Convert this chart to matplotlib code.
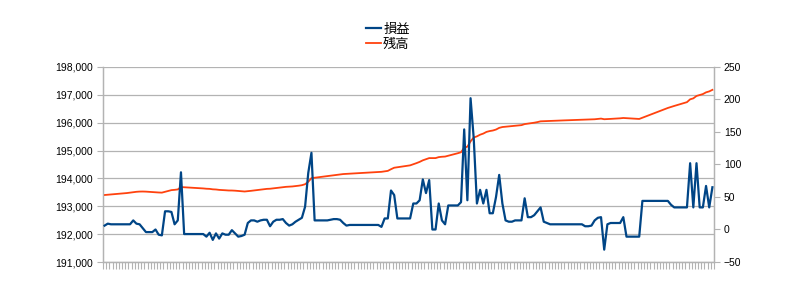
import numpy as np
import matplotlib
matplotlib.use("Agg")
import matplotlib.pyplot as plt
from matplotlib.ticker import FuncFormatter

plt.rcParams['font.family'] = ['Liberation Sans', 'DejaVu Sans']

series_names = ["損益", "残高"]

# 損益 (right axis)
profit = [
    6, 9, 8, 8, 8, 8, 8, 8, 8, 14,
    9, 8, 2, -4, -4, -4, 0, -8, -9, 28,
    28, 27, 8, 14, 88, -7, -7, -7, -7, -7,
    -7, -7, -11, -5, -16, -6, -14, -6, -8, -8,
    -1, -6, -11, -10, -8, 10, 14, 14, 12, 14,
    15, 15, 5, 12, 15, 15, 16, 10, 6, 8,
    12, 15, 18, 35, 87, 118, 14, 14, 14, 14,
    14, 15, 16, 16, 15, 10, 6, 7, 7, 7,
    7, 7, 7, 7, 7, 7, 7, 4, 17, 17,
    60, 53, 17, 17, 17, 17, 17, 40, 40, 45,
    77, 56, 76, 0, 0, 40, 14, 8, 37, 37,
    37, 37, 42, 154, 45, 202, 140, 40, 61, 40,
    61, 25, 25, 50, 84, 40, 14, 12, 12, 14,
    14, 14, 48, 19, 19, 22, 28, 34, 12, 10,
    8, 8, 8, 8, 8, 8, 8, 8, 8, 8,
    8, 5, 5, 6, 14, 18, 19, -31, 8, 10,
    10, 10, 10, 19, -11, -11, -11, -11, -11, 44,
    44, 44, 44, 44, 44, 44, 44, 44, 38, 34,
    34, 34, 34, 34, 102, 34, 102, 34, 34, 67,
    34, 65,
]

# 残高 (left axis)
balance = [
    193405, 193415, 193425, 193435, 193445, 193455, 193465, 193475, 193490, 193505,
    193520, 193528, 193530, 193526, 193518, 193510, 193505, 193495, 193490, 193520,
    193550, 193580, 193590, 193605, 193690, 193683, 193676, 193669, 193662, 193655,
    193648, 193641, 193630, 193625, 193609, 193603, 193589, 193583, 193575, 193567,
    193566, 193560, 193549, 193539, 193531, 193541, 193555, 193569, 193581, 193595,
    193610, 193625, 193630, 193642, 193657, 193672, 193688, 193698, 193704, 193712,
    193724, 193739, 193757, 193792, 193880, 194010, 194025, 194040, 194055, 194070,
    194085, 194100, 194116, 194132, 194147, 194157, 194163, 194170, 194177, 194184,
    194191, 194198, 194205, 194212, 194219, 194226, 194233, 194237, 194254, 194271,
    194331, 194384, 194401, 194418, 194435, 194452, 194469, 194509, 194549, 194594,
    194650, 194690, 194730, 194730, 194730, 194765, 194778, 194785, 194815, 194845,
    194875, 194905, 194940, 195100, 195140, 195330, 195470, 195510, 195570, 195610,
    195670, 195700, 195720, 195755, 195815, 195845, 195857, 195867, 195877, 195889,
    195901, 195913, 195950, 195966, 195982, 196000, 196022, 196050, 196055, 196060,
    196065, 196070, 196074, 196078, 196082, 196086, 196090, 196094, 196098, 196102,
    196106, 196109, 196112, 196115, 196124, 196136, 196148, 196125, 196130, 196137,
    196144, 196151, 196158, 196170, 196163, 196156, 196149, 196142, 196135, 196178,
    196222, 196266, 196310, 196354, 196398, 196442, 196486, 196530, 196568, 196602,
    196636, 196670, 196704, 196738, 196840, 196874, 196960, 196994, 197028, 197090,
    197124, 197180,
]

left_ticks = [191000, 192000, 193000, 194000, 195000, 196000, 197000, 198000]
right_ticks = [-50, 0, 50, 100, 150, 200, 250]

n = len(profit)
x = np.arange(n)

fig = plt.figure(figsize=(8.08, 3.0), dpi=100)
ax = fig.add_axes([103/808, 1-262/300, (714-103)/808, (262-67)/300])
ax2 = ax.twinx()

grid_c = '#b3b3b3'
ln2, = ax.plot(x, balance, color='#ff420e', lw=1.3, label=series_names[1], zorder=3)
ln1, = ax2.plot(x, profit, color='#004586', lw=1.6, label=series_names[0], zorder=3)

ax.set_xlim(-0.5, n - 0.5)
ax.set_ylim(left_ticks[0], left_ticks[-1])
ax2.set_ylim(right_ticks[0], right_ticks[-1])
ax.set_yticks(left_ticks)
ax2.set_yticks(right_ticks)
ax.yaxis.set_major_formatter(FuncFormatter(lambda v, p: f"{int(v):,}"))
ax.set_xticks(np.arange(n + 1) - 0.5)
ax.set_xticklabels([])
ax.grid(axis='y', color=grid_c, lw=0.9)
ax.set_axisbelow(True)

for a in (ax, ax2):
    for s in a.spines.values():
        s.set_color(grid_c)
        s.set_linewidth(0.9)
    a.spines['top'].set_visible(False)
    a.tick_params(colors=grid_c, labelcolor='#000000', labelsize=7.5, length=4, width=0.8)
ax.tick_params(axis='x', length=5)
ax.tick_params(axis='y', pad=3)
ax2.tick_params(axis='y', pad=3)

leg = fig.legend([ln1, ln2], series_names, loc='center left',
                 bbox_to_anchor=(366/808, 1-37/300), frameon=False,
                 borderpad=0, borderaxespad=0, handlelength=1.15,
                 handletextpad=0.15, labelspacing=0.15,
                 prop={'family': ['Noto Sans CJK JP', 'DejaVu Sans'], 'size': 9.5})

fig.savefig('out.png', dpi=100)
